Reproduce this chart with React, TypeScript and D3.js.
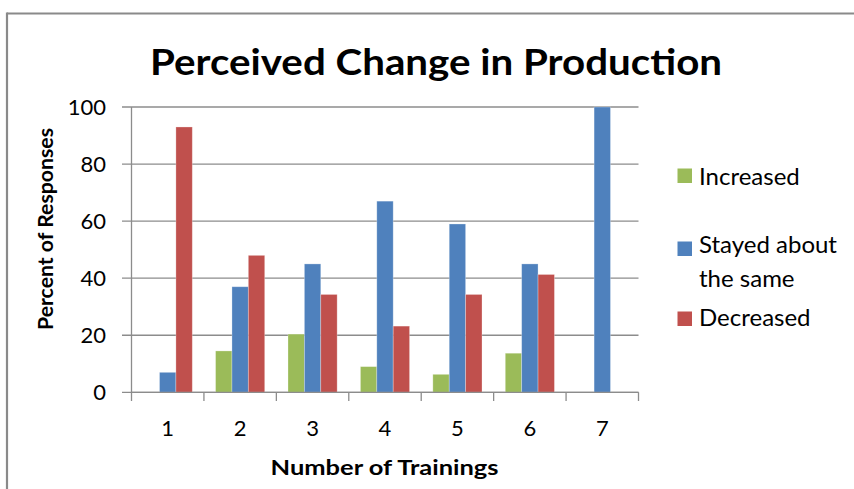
import React from "react";
import * as d3 from "d3";

const categories = ["1", "2", "3", "4", "5", "6", "7"];
const seriesNames = ["Increased", "Stayed about the same", "Decreased"];
const increased = [0, 14.5, 20.4, 9, 6.3, 13.7, 0];
const stayed = [7, 37, 45, 67, 59, 45, 100];
const decreased = [93, 48, 34.3, 23.2, 34.3, 41.3, 0];
const yTicks = [0, 20, 40, 60, 80, 100];
const colors = ["#9BBB59", "#4F81BD", "#C0504D"];

const W = 854;
const H = 489;
const FONT = "Lato, 'Open Sans', sans-serif";

export default function App() {
  const plot = { left: 131.5, right: 638.5, top: 107, bottom: 392.3 };
  const x = d3.scaleBand<string>().domain(categories).range([plot.left, plot.right]).paddingInner(0).paddingOuter(0);
  const inner = d3
    .scaleBand<number>()
    .domain([0, 1, 2])
    .range([0, x.bandwidth()])
    .paddingOuter(0.71)
    .paddingInner(0);
  const y = d3.scaleLinear().domain([0, 100]).range([plot.bottom, plot.top]);
  const series = [increased, stayed, decreased];
  const boundaries = categories.map((c) => x(c) as number).concat([plot.right]);

  const legendItems = [
    { lines: ["Increased"], y: 176, base: 185 },
    { lines: ["Stayed about", "the same"], y: 249, base: 252.5 },
    { lines: ["Decreased"], y: 319, base: 326 },
  ];

  return (
    <svg
      width={W}
      height={H}
      style={{ position: "absolute", left: 0, top: 0, background: "#fff" }}
      fontFamily={FONT}
    >
      <rect x={0} y={0} width={W} height={H} fill="#fff" />
      {/* outer frame */}
      <line x1={7} y1={13.5} x2={W} y2={13.5} stroke="#8a8a8a" strokeWidth={2.2} />
      <line x1={7} y1={12.5} x2={7} y2={H} stroke="#8a8a8a" strokeWidth={2.2} />

      <text
        x={436}
        y={75}
        textAnchor="middle"
        fontSize={37}
        fontWeight="bold"
        fill="#000"
        textLength={572}
        lengthAdjust="spacingAndGlyphs"
      >
        Perceived Change in Production
      </text>

      {/* grid lines and y ticks */}
      {yTicks.map((t) => (
        <g key={t}>
          <line x1={122} x2={plot.right} y1={y(t)} y2={y(t)} stroke="#8c8c8c" strokeWidth={1.3} />
          <text x={106} y={y(t) + 8} textAnchor="end" fontSize={22} fill="#000">
            {t}
          </text>
        </g>
      ))}
      <line x1={plot.left} x2={plot.left} y1={plot.top} y2={plot.bottom} stroke="#8c8c8c" strokeWidth={1.3} />

      {/* bars */}
      {categories.map((c, i) => (
        <g key={c}>
          {series.map((s, k) =>
            s[i] > 0 ? (
              <rect
                key={k}
                x={(x(c) as number) + (inner(k) as number)}
                y={y(s[i])}
                width={inner.bandwidth()}
                height={y(0) - y(s[i])}
                fill={colors[k]}
                stroke="rgba(255,255,255,0.35)"
                strokeWidth={0.8}
              />
            ) : null
          )}
        </g>
      ))}

      {/* x axis ticks */}
      {boundaries.map((b, i) => (
        <line key={i} x1={b} x2={b} y1={plot.bottom} y2={401} stroke="#8c8c8c" strokeWidth={1.3} />
      ))}
      <line x1={plot.left} x2={plot.right} y1={plot.bottom} y2={plot.bottom} stroke="#8c8c8c" strokeWidth={1.3} />
      {categories.map((c) => (
        <text
          key={c}
          x={(x(c) as number) + x.bandwidth() / 2}
          y={436}
          textAnchor="middle"
          fontSize={22}
          fill="#000"
        >
          {c}
        </text>
      ))}

      <text
        x={384.5}
        y={475}
        textAnchor="middle"
        fontSize={21}
        fontWeight="bold"
        fill="#000"
        textLength={228}
        lengthAdjust="spacingAndGlyphs"
      >
        Number of Trainings
      </text>

      <text
        transform="translate(52.5,229) rotate(-90)"
        textAnchor="middle"
        fontSize={21}
        fontWeight="bold"
        fill="#000"
        textLength={202}
        lengthAdjust="spacingAndGlyphs"
      >
        Percent of Responses
      </text>

      {/* legend */}
      {legendItems.map((item, k) => (
        <g key={k}>
          <rect x={677.5} y={item.y - 7.5} width={14.5} height={14.5} fill={colors[k]} />
          {item.lines.map((ln, j) => (
            <text key={j} x={699} y={item.base + j * 34.5} fontSize={24} fill="#000">
              {ln}
            </text>
          ))}
        </g>
      ))}
      <title>{seriesNames.join(", ")}</title>
    </svg>
  );
}
